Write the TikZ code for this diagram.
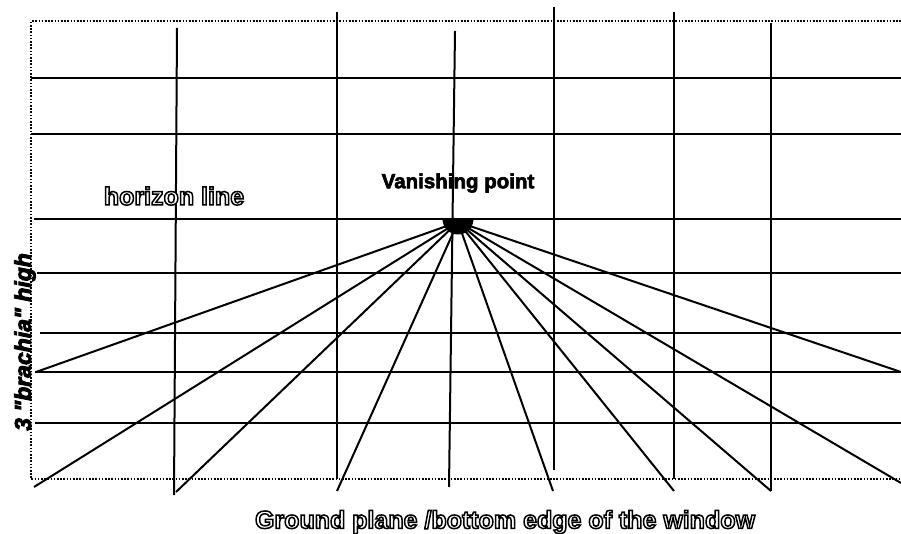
\documentclass[tikz,border=0pt]{standalone}
\usepackage{fontspec}
\setmainfont{Liberation Sans}
\newfontfamily\heavyfont{Liberation Sans Bold}[FakeBold=3]
\newfontfamily\heavyital{Liberation Sans Bold Italic}[FakeBold=4]
\newfontfamily\plainbold{Liberation Sans Bold}
\newcommand{\outlined}[1]{\special{pdf:code q 2 Tr 1.5 w 1 1 1 rg 0 0 0 RG}#1\special{pdf:code Q}}
\tikzset{
  gridline/.style={black,line width=2pt},
  windowedge/.style={black,line width=2pt,dash pattern=on 1.6pt off 1.6pt},
  raylines/.style={black,line width=2pt},
  outlabel/.style={inner sep=0pt,font=\plainbold\fontsize{25}{25}\selectfont},
  blacklabel/.style={inner sep=0pt,font=\heavyfont\fontsize{20.5}{20.5}\selectfont}
}
\begin{document}
\begin{tikzpicture}[x=1pt,y=-1pt]
\useasboundingbox (0,0) rectangle (901,534);
% window edge
\coordinate (wTL) at (31,21.5);
\coordinate (wTR) at (901,21.5);
\coordinate (wBL) at (31,479);
\coordinate (wBR) at (901,479);
\draw[windowedge] (wTR) -- (wTL) -- (wBL) -- (wBR);
% horizontals
\foreach \n/\xa/\y in {a/31/78,b/31/134,c/34/219,d/37/273,e/40/333,f/35/372,g/35/423}{
  \coordinate (h\n L) at (\xa,\y);
  \coordinate (h\n R) at (901,\y);
  \draw[gridline] (h\n L) -- (h\n R);
}
% verticals
\foreach \n/\xa/\ya/\xb/\yb in {a/177/28/174/495,b/337/12/337/479,c/455/31/449/487,d/554/7/554/470,e/674/12/674/479,f/771/23/771/491}{
  \coordinate (v\n T) at (\xa,\ya);
  \coordinate (v\n B) at (\xb,\yb);
  \draw[gridline] (v\n T) -- (v\n B);
}
% vanishing point and rays
\coordinate (vp) at (458,222);
\fill[black] (442.5,219) arc[start angle=180,end angle=0,radius=15.5] -- cycle;
\foreach \n/\x/\y in {a/36/372,b/34/487,c/176/492,d/337/491,e/553/491,f/674/491,g/771/491,h/901/483,i/901/372}{
  \coordinate (r\n) at (\x,\y);
  \draw[raylines] (vp) -- (r\n);
}
% labels
\node[outlabel] (horizon) at (174,196) {\outlined{horizon line}};
\node[blacklabel] (vanish) at (458,183) {Vanishing point};
\node[outlabel] (ground) at (505,522) {\outlined{Ground plane /bottom edge of the window}};
\node[inner sep=0pt,rotate=90,font=\heavyital\fontsize{23}{23}\selectfont] (brachia) at (25,342) {3 "brachia" high};
\end{tikzpicture}
\end{document}
